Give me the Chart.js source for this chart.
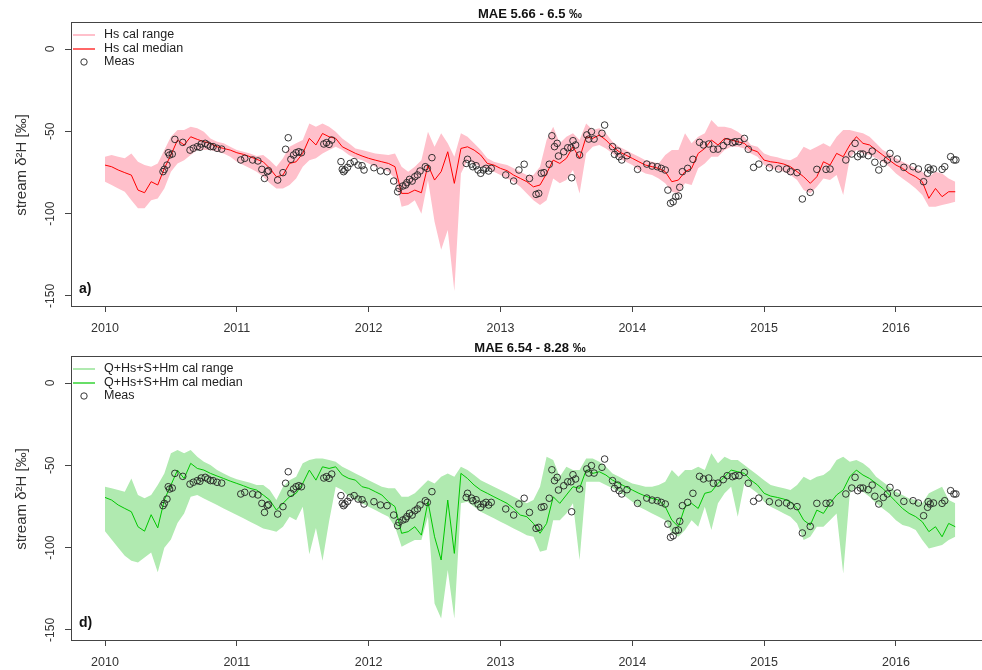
<!DOCTYPE html>
<html>
<head>
<meta charset="utf-8">
<title>stream d2H calibration</title>
<script src="https://cdn.jsdelivr.net/npm/chart.js@4.4.1/dist/chart.umd.min.js"></script>
<style>
  html, body { margin: 0; padding: 0; background: #fff; overflow: hidden; }
  canvas { position: absolute; left: 0; }
  #panelA { top: 0; }
  #panelD { top: 334px; }
</style>
</head>
<body>
<canvas id="panelA" width="1000" height="334"></canvas>
<canvas id="panelD" width="1000" height="336"></canvas>
<script>
// axis ticks
const yearTicks = [2010, 2011, 2012, 2013, 2014, 2015, 2016];
const yTicks = [-150, -100, -50, 0];

// model output sampled every 0.05 yr from 2010.00
const gridStart = 2010, gridStep = 0.05;

// a) Hs calibration
const hsMed = [
  -70.5, -71.5, -73.5, -75.1, -76.6, -85.7, -87.3, -80.6, -82.6, -72.5,
  -64.4, -55.3, -58.3, -53.3, -54.9, -56.3, -57.3, -59.4, -60.4, -61.4,
  -63, -64, -65.4, -67, -68.5, -72.5, -77.6, -76.6, -69.5, -68.5,
  -63.4, -54.3, -58.3, -51.3, -53.3, -54.3, -59.4, -61.4, -63.4, -65,
  -66.4, -67.5, -68.5, -69.5, -71.5, -87.7, -87.7, -85.7, -87.3, -70.5,
  -79.6, -74.5, -62.4, -81.6, -60.4, -59.4, -61.4, -64.4, -69.5, -70.5,
  -72.5, -73.9, -76.6, -78.6, -80.6, -83.7, -82.6, -75.6, -67.5, -69.5,
  -66.4, -59.4, -66.4, -53.3, -54.3, -52.3, -55.3, -59.4, -62.4, -64.4,
  -66.4, -68.5, -70.5, -71.5, -72.5, -74.5, -80.6, -79.6, -74.5, -72.5,
  -63.4, -60.4, -55.3, -58.3, -54.3, -55.3, -56.3, -57.3, -61, -62.4,
  -67.5, -68.5, -69, -69.9, -71.5, -74.5, -77.6, -81.6, -77.6, -68.5,
  -70.5, -63.4, -65.4, -58.3, -53.3, -57.3, -58.3, -61.4, -64.4, -67.5,
  -70.5, -72.5, -75.6, -77.6, -80.6, -90.7, -84.7, -89.7, -86.7, -86.7
];
const hsHi = [
  -65.4, -64.4, -65.4, -66.4, -63.4, -68.5, -70.5, -71.5, -69.5, -61.4,
  -53.3, -49.2, -49.2, -47.2, -48.2, -50.2, -54.3, -56.3, -57.3, -59.4,
  -61.4, -62.4, -63.4, -65, -64.4, -67.5, -71.5, -66.4, -59.4, -57.3,
  -55.3, -45.2, -47.2, -45.2, -47.2, -50.2, -54.3, -57.3, -60.4, -61.4,
  -62.4, -63.4, -64, -64.4, -63.4, -71.5, -74.5, -71.5, -67.5, -50.2,
  -59.4, -51.2, -57.3, -65.4, -51.2, -53.3, -57.3, -61.4, -66.4, -68.5,
  -69.5, -70.5, -72.5, -74.5, -76.6, -76.6, -71.5, -55.3, -47.2, -57.3,
  -53.3, -51.2, -55.3, -45.2, -49.2, -48.2, -51.2, -56.3, -59.4, -61.4,
  -63.4, -65.4, -67.5, -68.5, -69.5, -64.4, -61.4, -61.4, -51.2, -57.3,
  -53.3, -51.2, -43.2, -47.2, -47.2, -48.2, -50.2, -53.3, -58.3, -59.4,
  -63.4, -65, -65.8, -67, -67.5, -65.4, -59.4, -61.4, -59.4, -57.3,
  -59.4, -53.3, -49.2, -49.2, -50.2, -51.2, -53.3, -57.3, -61.4, -63.4,
  -66.4, -68.5, -70.5, -72.5, -74.5, -77.6, -74.5, -75.6, -78.6, -80.6
];
const hsLo = [
  -80.6, -82.6, -84.7, -86.7, -91.8, -96.8, -96.8, -91.8, -90.8, -84.7,
  -74.5, -69.5, -67.5, -64.4, -61.4, -61.4, -61.4, -62.4, -63.4, -65.4,
  -68.5, -70.5, -72.5, -74.5, -77.6, -81.6, -84.7, -84.7, -82.6, -78.6,
  -71.5, -67.5, -66.4, -63.4, -61.4, -59.4, -61.4, -64.4, -66.4, -67.5,
  -69.5, -71.5, -72.5, -74.5, -78.6, -95.8, -94.8, -91.8, -100, -79.6,
  -105, -122, -110, -147, -75.6, -67.5, -69.5, -71.5, -72.5, -74.5,
  -76.6, -78.6, -80.6, -83.7, -87.7, -91.8, -94.8, -91.8, -78.6, -81.6,
  -79.6, -73.5, -87.7, -63.4, -59.4, -58.3, -60.4, -63.4, -66.4, -68.5,
  -70.5, -73.5, -75.6, -76.6, -78.6, -81.6, -86.7, -87.7, -81.6, -82.6,
  -72.5, -69.5, -65.4, -65.4, -61.4, -59.4, -59.4, -60.4, -63.4, -65.4,
  -70.5, -72.5, -73.5, -74.5, -76.6, -79.6, -85.7, -87.7, -83.7, -78.6,
  -79.6, -76.6, -88.7, -66.4, -61.4, -63.4, -64.4, -66.4, -68.5, -71.5,
  -75.6, -78.6, -81.6, -84.7, -88.7, -95.8, -95.8, -94.8, -93.8, -92.8
];

// d) Q+Hs+S+Hm calibration
const qMed = [
  -69.5, -71.1, -74.1, -76.2, -78.2, -87.3, -90, -80, -88, -71,
  -62, -52.9, -58, -48.8, -51.9, -52.9, -54.9, -56.5, -58, -59.6,
  -61, -62.4, -64, -65, -68, -71.1, -77.2, -73.1, -69.1, -67,
  -61, -52.9, -59, -50.9, -51.9, -50.9, -55.9, -58, -59, -63,
  -64, -66, -68, -72.1, -75.1, -91.3, -90.3, -87.3, -92.4, -72.1,
  -93.4, -107.5, -71.1, -103.5, -54.9, -58, -62, -65, -67, -69.1,
  -71.1, -73.1, -76.2, -80.2, -81.2, -85.3, -91.3, -85.3, -69.1, -73.1,
  -68, -63, -64, -52.9, -54.9, -53.9, -55.9, -59, -61, -63,
  -65, -67, -68.7, -70.1, -71.1, -75.1, -83.3, -87.3, -75.1, -73.1,
  -76.2, -67, -66, -61, -56.9, -52.9, -53.9, -54.9, -59, -62,
  -67, -68.7, -69.5, -70.5, -72.1, -76.2, -83.3, -86.3, -77.2, -79.2,
  -73.1, -68, -65, -56.9, -52.9, -55.9, -58, -61, -64, -68,
  -72.1, -76.2, -79.2, -81.2, -84.3, -90.3, -87.3, -93.4, -85.3, -87.3
];
const qHi = [
  -63, -64, -65, -66, -58, -68, -70, -68, -62, -55,
  -42.7, -40.7, -42.7, -40.7, -44.8, -47.8, -49.8, -52.9, -54.9, -56.9,
  -58.5, -59.6, -60.6, -62, -62, -65, -71.1, -63, -59, -56.9,
  -48.8, -46.8, -45.8, -45.8, -46.8, -47.8, -50.9, -52.9, -54.9, -56.9,
  -59, -61, -63, -64, -64, -69.1, -69.1, -67, -63, -59,
  -61, -56.9, -54.9, -56.9, -50.9, -52.9, -55.9, -59, -61, -63,
  -65, -67, -69.1, -71.1, -73.1, -71.1, -63, -44.8, -46.8, -56.9,
  -50.9, -52.9, -52.9, -45.8, -45.8, -47.8, -50.9, -54.9, -56.9, -59,
  -61, -62, -63, -63, -62, -60, -52.9, -56.9, -52.9, -52.9,
  -50.9, -52.9, -42.7, -48.8, -44.8, -46.8, -46.8, -49.8, -52.9, -55.9,
  -59, -62, -63, -64, -65, -62, -56.9, -59, -56.9, -55.9,
  -52.9, -46.8, -44.8, -47.8, -46.8, -48.8, -51.9, -56.9, -60, -63,
  -66, -68, -70.1, -71.1, -73.1, -67, -65, -63, -71.1, -73.1
];
const qLo = [
  -90, -95, -100, -105, -108, -109, -106, -103, -115, -100,
  -95, -85, -79.2, -69.1, -68, -70.1, -72.1, -74.1, -76.2, -78.2,
  -80.2, -82.2, -84.3, -86.3, -88.3, -89.3, -90.3, -87.3, -81.2, -83.3,
  -75.1, -104, -88, -108, -84, -63, -65, -69.1, -71.1, -73.1,
  -75.1, -77.2, -79.2, -81.2, -87.3, -99.5, -97.4, -95.4, -95.4, -81.2,
  -133.9, -143, -113.6, -143, -73.1, -72.1, -75.1, -78.2, -80.2, -82.2,
  -84.3, -86.3, -88.3, -90.3, -92.4, -93.4, -102.5, -101.5, -83.3, -83.3,
  -79.2, -73.1, -107.5, -60, -60, -60, -62, -64, -66, -69.1,
  -72.1, -75.1, -77.2, -79.2, -81.2, -83.3, -91.3, -93.4, -89.3, -83.3,
  -87.3, -75.1, -89.3, -73.1, -67, -63, -81.2, -61, -64, -67,
  -72.1, -75.1, -77.2, -79.2, -81.2, -85.3, -95.4, -93.4, -87.3, -87.3,
  -83.3, -79.2, -115.7, -67, -63, -66, -69.1, -73.1, -76.2, -79.2,
  -83.3, -86.3, -87.3, -89.3, -95.4, -100.5, -99.5, -98.4, -95.4, -93.4
];

// measured stream samples (decimal year, permil)
const measT = [
  2010.44, 2010.45, 2010.47, 2010.48, 2010.49, 2010.51, 2010.53, 2010.59, 2010.645, 2010.67,
  2010.70, 2010.72, 2010.73, 2010.76, 2010.78, 2010.80, 2010.82, 2010.85, 2010.885,
  2011.03, 2011.06, 2011.12, 2011.16, 2011.19, 2011.21, 2011.23, 2011.24, 2011.31, 2011.35,
  2011.37, 2011.39, 2011.41, 2011.43, 2011.45, 2011.47, 2011.49, 2011.66, 2011.68, 2011.70,
  2011.72, 2011.79, 2011.80, 2011.81, 2011.82, 2011.84, 2011.86, 2011.89, 2011.92, 2011.95, 2011.965,
  2012.04, 2012.09, 2012.14, 2012.19, 2012.22, 2012.23, 2012.26, 2012.28, 2012.29, 2012.31,
  2012.33, 2012.35, 2012.37, 2012.39, 2012.43, 2012.445, 2012.48, 2012.74, 2012.75, 2012.78,
  2012.79, 2012.815, 2012.83, 2012.85, 2012.87, 2012.89, 2012.91, 2012.93,
  2013.04, 2013.10, 2013.14, 2013.18, 2013.22, 2013.27, 2013.29, 2013.31, 2013.33, 2013.37,
  2013.39, 2013.41, 2013.43, 2013.44, 2013.48, 2013.51, 2013.535, 2013.54, 2013.55, 2013.57,
  2013.60, 2013.655, 2013.67, 2013.69, 2013.71, 2013.77, 2013.79, 2013.85, 2013.865, 2013.89,
  2013.90, 2013.92, 2013.96,
  2014.04, 2014.11, 2014.15, 2014.19, 2014.22, 2014.25, 2014.27, 2014.29, 2014.31, 2014.33,
  2014.35, 2014.36, 2014.38, 2014.42, 2014.46, 2014.51, 2014.54, 2014.58, 2014.615, 2014.65,
  2014.69, 2014.72, 2014.76, 2014.78, 2014.81, 2014.85, 2014.88, 2014.92, 2014.96,
  2015.04, 2015.11, 2015.17, 2015.20, 2015.25, 2015.29, 2015.35, 2015.40, 2015.47, 2015.50,
  2015.62, 2015.665, 2015.69, 2015.71, 2015.73, 2015.75, 2015.79, 2015.82, 2015.84, 2015.87,
  2015.905, 2015.935, 2015.955,
  2016.01, 2016.06, 2016.13, 2016.17, 2016.21, 2016.24, 2016.245, 2016.26, 2016.285, 2016.35,
  2016.37, 2016.415, 2016.44, 2016.455
];
const measV = [
  -74.5, -73.1, -70.5, -63, -64.4, -63.8, -54.9, -56.7, -61.4, -60.3,
  -59.3, -59.7, -57.7, -57.3, -58.3, -59.3, -59.3, -60.3, -60.8,
  -67.4, -66.4, -67.4, -68, -73.1, -78.6, -74.5, -73.9, -79.6, -75.1,
  -60.9, -53.9, -67, -64.4, -63, -62.4, -63, -57.7, -56.9, -57.9,
  -55.3, -68.4, -73.1, -74.5, -73.5, -71.9, -69.5, -68.4, -70.5, -70.9, -73.5,
  -72.1, -74.1, -74.5, -80.2, -86.7, -84.6, -83.2, -82.6, -81.2, -79.2,
  -80.2, -77.6, -76.5, -74.1, -71.5, -72.5, -66, -69.5, -67, -69.9,
  -71.5, -70.9, -73.5, -75.5, -73.5, -72.5, -74.1, -72.5,
  -76.5, -80.2, -73.5, -70, -78.6, -88.3, -87.7, -75.5, -75.1, -70,
  -52.7, -59.3, -57.3, -65, -62.4, -60, -60, -78.2, -55.7, -58.3,
  -64.4, -52.2, -54.7, -50.2, -54.7, -51.2, -46.2, -59.3, -64, -62,
  -65.4, -67.4, -64.8,
  -73.1, -69.9, -71.1, -71.5, -72.5, -73.5, -85.7, -93.7, -92.8, -89.7,
  -89.3, -84, -74.5, -72.5, -67, -56.7, -58.3, -57.7, -60.9, -60.8,
  -58.7, -56.3, -56.9, -56.3, -56.3, -54.3, -60.9, -71.9, -69.9,
  -72.1, -72.9, -72.9, -74.5, -75.1, -91.1, -87.1, -73.1, -73.1, -72.9,
  -67.4, -63.8, -57.3, -65.4, -63.8, -63.8, -64.8, -62, -68.8, -73.5,
  -69.5, -67.4, -63.4,
  -66.8, -71.9, -71.5, -72.9, -80.6, -75.5, -72.1, -73.5, -72.9, -73.1,
  -71.5, -65.4, -67.4, -67.4
];

const FONT = '"Liberation Sans", Arial, Helvetica, sans-serif';
const AXIS = '#444';

document.addEventListener('DOMContentLoaded', () => {
  drawPanel('panelA', {
    title: 'MAE 5.66 - 6.5 \u2030', tag: 'a)',
    med: hsMed, hi: hsHi, lo: hsLo,
    bandColor: '#ffc0cb', medColor: '#ff0000',
    names: ['Hs cal range', 'Hs cal median', 'Meas']
  });
  drawPanel('panelD', {
    title: 'MAE 6.54 - 8.28 \u2030', tag: 'd)',
    med: qMed, hi: qHi, lo: qLo,
    bandColor: '#b0eab0', medColor: '#00c800',
    names: ['Q+Hs+S+Hm cal range', 'Q+Hs+S+Hm cal median', 'Meas']
  });
});

function series(vals) {
  return vals.map((v, i) => ({ x: +(gridStart + i * gridStep).toFixed(2), y: v }));
}

// R-ish box, rotated y labels, titles and legend (one per panel)
function makeFrame(p) {
  return {
    id: 'rframe',
    afterDraw(chart) {
      const { ctx, chartArea: a } = chart;
      const ys = chart.scales.y;
      ctx.save();
      ctx.strokeStyle = AXIS;
      ctx.lineWidth = 1;
      ctx.strokeRect(a.left + 0.5, a.top + 0.5, a.right - a.left, a.bottom - a.top);

      ctx.fillStyle = '#333';
      ctx.textAlign = 'center';
      ctx.textBaseline = 'middle';
      ctx.font = '12px ' + FONT;
      yTicks.forEach(v => {
        ctx.save();
        ctx.translate(51, ys.getPixelForValue(v));
        ctx.rotate(-Math.PI / 2);
        ctx.fillText(String(v), 0, 0);
        ctx.restore();
      });

      ctx.save();
      ctx.translate(22, 165);
      ctx.rotate(-Math.PI / 2);
      ctx.font = '15px ' + FONT;
      ctx.fillText('stream \u03b4\u00b2H [\u2030]', 0, 0);
      ctx.restore();

      ctx.fillStyle = '#111';
      ctx.font = 'bold 13px ' + FONT;
      ctx.fillText(p.title, (a.left + a.right) / 2, 14);

      ctx.textAlign = 'left';
      ctx.font = 'bold 14px ' + FONT;
      ctx.fillText(p.tag, 79, 289);

      // legend
      const rows = [35, 49, 62];
      ctx.font = '12.5px ' + FONT;
      ctx.fillStyle = '#222';
      p.names.forEach((n, i) => ctx.fillText(n, 104, rows[i]));
      ctx.lineWidth = 2;
      ctx.strokeStyle = p.bandColor;
      ctx.beginPath(); ctx.moveTo(73, rows[0]); ctx.lineTo(95, rows[0]); ctx.stroke();
      ctx.lineWidth = 1.2;
      ctx.strokeStyle = p.medColor;
      ctx.beginPath(); ctx.moveTo(73, rows[1]); ctx.lineTo(95, rows[1]); ctx.stroke();
      ctx.strokeStyle = '#222';
      ctx.lineWidth = 0.9;
      ctx.beginPath(); ctx.arc(84, rows[2], 3.2, 0, Math.PI * 2); ctx.stroke();
      ctx.restore();
    }
  };
}

function drawPanel(id, p) {
  const cv = document.getElementById(id);
  const H = cv.height;
  const meas = measT.map((t, i) => ({ x: t, y: measV[i] }));
  new Chart(cv, {
    type: 'line',
    data: {
      datasets: [
        { label: 'lo', data: series(p.lo), borderColor: 'rgba(0,0,0,0)', borderWidth: 0,
          pointRadius: 0, fill: false, order: 3 },
        { label: 'range', data: series(p.hi), borderColor: 'rgba(0,0,0,0)', borderWidth: 0,
          pointRadius: 0, fill: '-1', backgroundColor: p.bandColor, order: 2 },
        { label: 'median', data: series(p.med), borderColor: p.medColor, borderWidth: 1,
          pointRadius: 0, fill: false, order: 1 },
        { type: 'scatter', label: 'Meas', data: meas, pointRadius: 3.3, pointBorderWidth: 0.9,
          borderColor: '#222', backgroundColor: 'rgba(0,0,0,0)', order: 0 }
      ]
    },
    options: {
      responsive: false,
      animation: false,
      devicePixelRatio: 1,
      events: [],
      layout: { padding: { top: 22, right: 11, left: 0, bottom: 0 } },
      elements: { line: { tension: 0 } },
      plugins: {
        legend: { display: false },
        tooltip: { enabled: false }
      },
      scales: {
        x: {
          type: 'linear', min: 2009.742, max: 2016.706,
          afterFit: s => { s.height = H - 306; },
          afterBuildTicks: s => { s.ticks = yearTicks.map(v => ({ value: v })); },
          ticks: { color: '#333', font: { family: FONT, size: 12.5 }, padding: 9,
                   maxRotation: 0, autoSkip: false, callback: v => String(v) },
          grid: { drawOnChartArea: false, drawTicks: true, tickLength: 6, color: AXIS },
          border: { color: AXIS }
        },
        y: {
          min: -156.1, max: 16.4,
          afterFit: s => { s.width = 71; },
          afterBuildTicks: s => { s.ticks = yTicks.map(v => ({ value: v })); },
          ticks: { display: false },
          grid: { drawOnChartArea: false, drawTicks: true, tickLength: 6, color: AXIS },
          border: { color: AXIS }
        }
      }
    },
    plugins: [makeFrame(p)]
  });
}
</script>
</body>
</html>
